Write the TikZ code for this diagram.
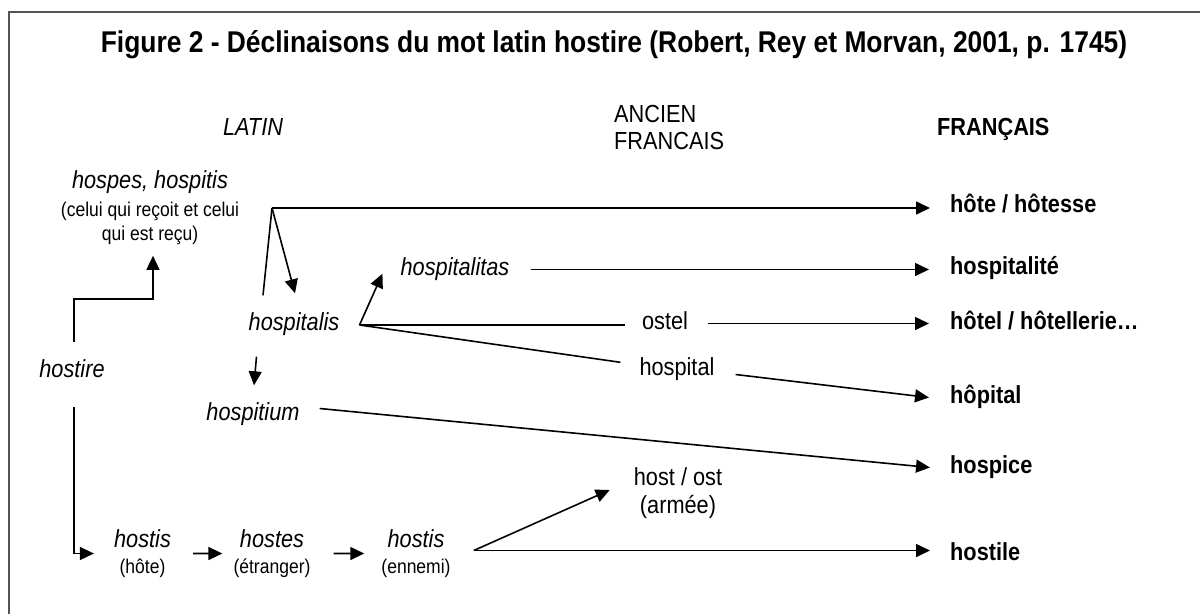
\documentclass[tikz,border=0pt]{standalone}
\usepackage{fontspec}
\setmainfont{Liberation Sans}[FakeStretch=0.88]
\usetikzlibrary{arrows.meta}
\definecolor{cadre}{RGB}{85,85,85}
\definecolor{trait}{RGB}{0,0,0}
\newcommand{\petit}{\fontsize{19.9}{21}\selectfont}

\begin{document}
\begin{tikzpicture}[x=1pt, y=-1pt,
	mot/.style={inner sep=0pt, text height=15.5pt, text depth=4.5pt, font=\fontsize{24.7}{26}\selectfont\itshape},
	vieux/.style={mot, font=\fontsize{24.7}{26}\selectfont},
	moderne/.style={mot, anchor=base west, font=\fontsize{24.7}{26}\selectfont\bfseries},
	bloc/.style={inner sep=0pt, align=center, anchor=north, font=\fontsize{24.7}{26}\selectfont},
	fleche/.style={draw=trait, line width=1.6pt, -{Triangle[length=14pt,width=13pt]}},
	ligne/.style={draw=trait, line width=1.6pt}]

	\useasboundingbox (0,0) rectangle (1200,614);
	\draw[cadre, line width=1.3pt] (9,614) -- (9,12) -- (1200,12);

	\node[inner sep=0pt, anchor=base, font=\fontsize{30}{32}\selectfont\bfseries] (titre) at (614,52) {Figure 2 - Déclinaisons du mot latin hostire (Robert, Rey et Morvan, 2001, p. 1745)};

	% en-tetes de colonnes
	\node[mot, anchor=base] (latin) at (253,135) {LATIN};
	\node[bloc, align=left, anchor=north west, font=\fontsize{24.7}{27}\selectfont] (ancien) at (614,105.3) {ANCIEN\\FRANCAIS};
	\node[moderne] (francais) at (937,135) {FRANÇAIS};

	% latin
	\node[bloc, font=\fontsize{24.7}{24}\selectfont] (hospes) at (150,170.3) {\textit{hospes, hospitis}\\[4pt]{\petit (celui qui reçoit et celui}\\{\petit qui est reçu)}};
	\node[mot, anchor=base] (hostire) at (72,377) {hostire};
	\node[mot, anchor=base] (hospitalis) at (294,330) {hospitalis};
	\node[mot, anchor=base] (hospitium) at (253,420) {hospitium};
	\node[mot, anchor=base] (hospitalitas) at (455,275) {hospitalitas};
	\node[bloc] (hostisA) at (142.5,529.3) {\textit{hostis}\\{\petit (hôte)}};
	\node[bloc] (hostes) at (272,529.3) {\textit{hostes}\\{\petit (étranger)}};
	\node[bloc] (hostisB) at (416,529.3) {\textit{hostis}\\{\petit (ennemi)}};

	% ancien francais
	\node[vieux, anchor=base] (ostel) at (665,329) {ostel};
	\node[vieux, anchor=base] (hospital) at (677,375) {hospital};
	\node[bloc, font=\fontsize{24.7}{28}\selectfont] (host) at (678,467.3) {host / ost\\(armée)};

	% francais
	\node[moderne] (hote) at (950,212) {hôte / hôtesse};
	\node[moderne] (hospitalite) at (950,274) {hospitalité};
	\node[moderne] (hotel) at (950,329) {hôtel / hôtellerie…};
	\node[moderne] (hopital) at (950,403) {hôpital};
	\node[moderne] (hospice) at (950,473) {hospice};
	\node[moderne] (hostile) at (950,560) {hostile};

	\coordinate (coude) at (74,299);
	\coordinate (jhospes) at (272,208);
	\coordinate (jhospitalis) at ([shift={(20,-5)}]hospitalis.base east);
	\coordinate (jhostis) at ([shift={(23,-3)}]hostisB.east);

	\draw[fleche, shorten <=19.5pt, shorten >=11pt] (hostire.north -| coude) -- (coude) -| ([xshift=3pt]hospes.south);
	\draw[fleche, shorten >=20pt] (jhospes) -- (hote.west |- jhospes);
	\draw[ligne] ([shift={(-31,-19)}]hospitalis.north) -- (jhospes);
	\draw[fleche] (jhospes) -- ([shift={(1,-21)}]hospitalis.north);

	\draw[fleche] (jhospitalis) -- ([shift={(-18,-6)}]hospitalitas.south west);
	\draw[fleche, shorten <=21pt, shorten >=21pt] (hospitalitas.east) -- (hospitalite.west |- hospitalitas.east);
	\draw[ligne, shorten >=17pt] (jhospitalis) -- (ostel.west |- jhospitalis);
	\draw[fleche, shorten <=20pt, shorten >=21pt] (ostel.east) -- (hotel.west |- ostel.east);
	\draw[ligne] (jhospitalis) -- ([shift={(-19,3)}]hospital.north west);
	\draw[fleche] ([shift={(21,5)}]hospital.east) -- ([xshift=-21pt]hopital.west);

	\draw[fleche] ([shift={(8,22)}]hospitalis.south west) -- ([shift={(1,-19)}]hospitium.north);
	\draw[fleche] ([shift={(20,-6)}]hospitium.east) -- ([xshift=-20pt]hospice.west);

	\draw[fleche, shorten >=20pt] ([shift={(2,25)}]hostire.south) |- (hostisA.west);
	\draw[fleche, shorten <=22pt, shorten >=11pt] (hostisA.east) -- (hostes.west);
	\draw[fleche, shorten <=23pt, shorten >=17pt] (hostes.east) -- (hostisB.west);
	\draw[fleche] (jhostis) -- ([shift={(-24,-3)}]host.west);
	\draw[fleche, shorten >=20pt] (jhostis) -- (hostile.west |- jhostis);

\end{tikzpicture}
\end{document}
